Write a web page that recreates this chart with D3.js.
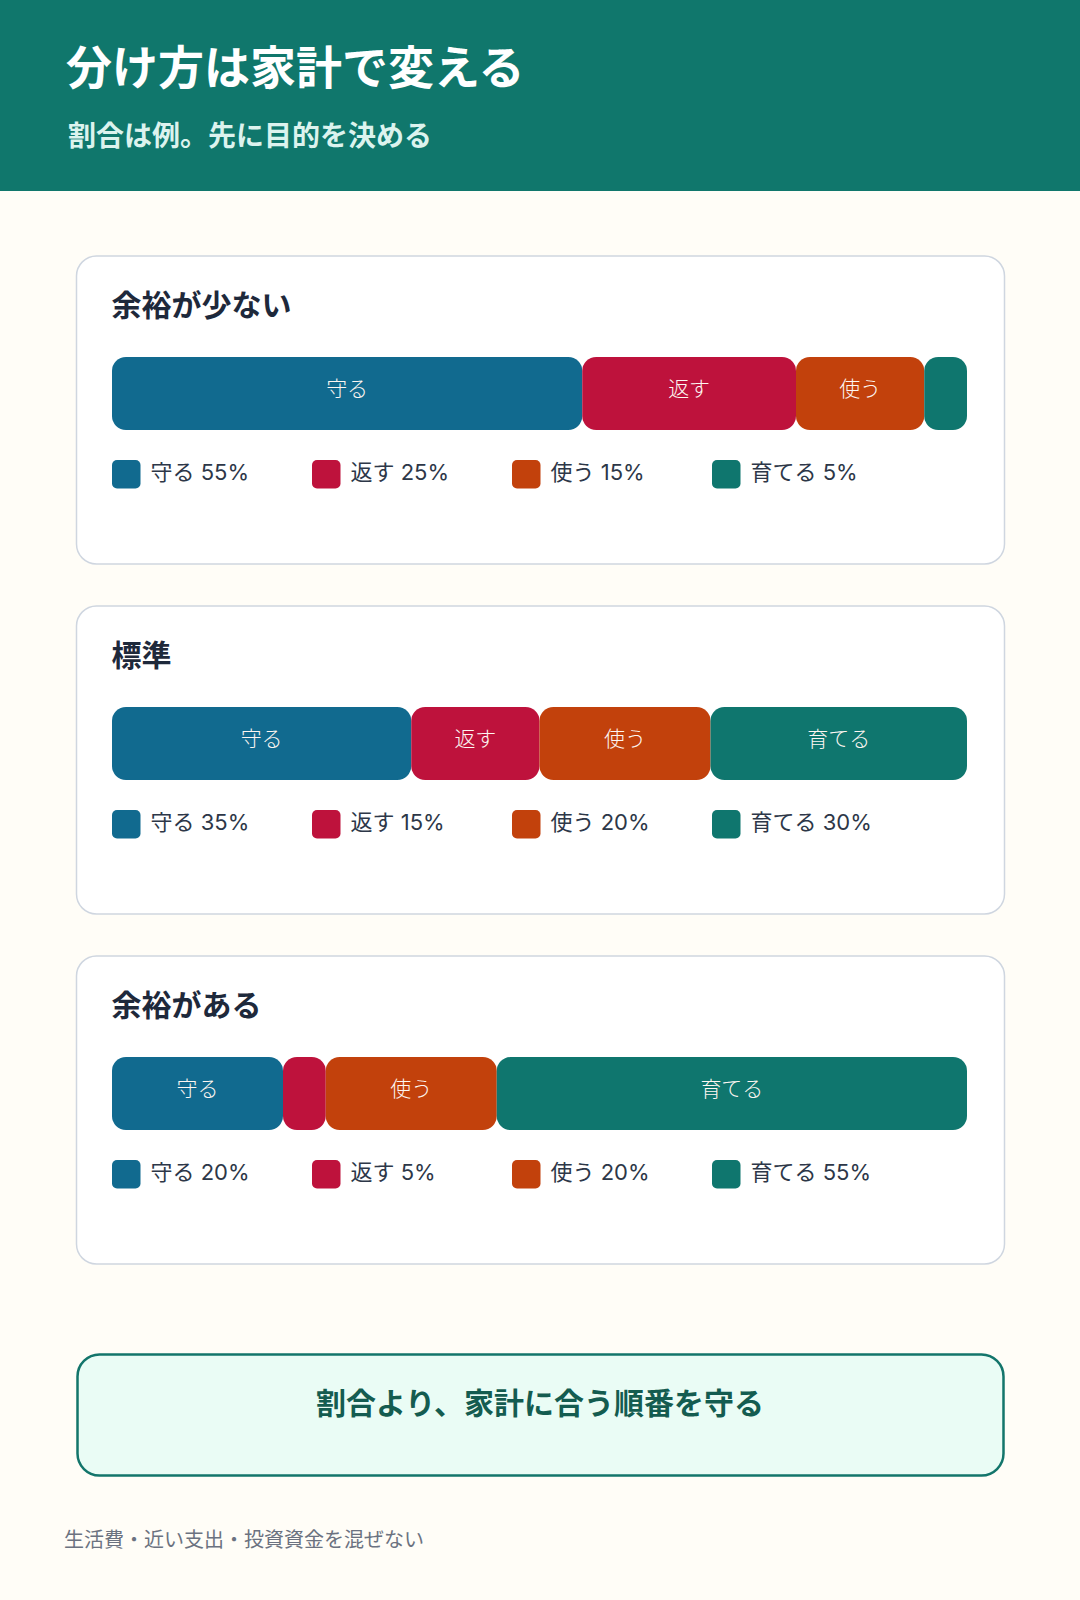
<!DOCTYPE html>
<html lang="ja">
<head>
<meta charset="utf-8">
<script src="https://cdn.jsdelivr.net/npm/d3@7"></script>
<style>
  html, body { margin: 0; padding: 0; background: #fffdf7; }
  svg { display: block; font-family: "Noto Sans CJK JP", "Noto Sans", sans-serif; }
  .thin { font-family: Inter, "Noto Sans CJK JP", sans-serif; font-weight: 300; }
  .leg { font-family: Inter, "Noto Sans CJK JP", sans-serif; font-weight: 400; }
</style>
</head>
<body>
<svg id="chart" width="1080" height="1600"></svg>
<script>
// ---- data ----
const titleText = "分け方は家計で変える";
const subtitleText = "割合は例。先に目的を決める";
const scenarios = ["余裕が少ない", "標準", "余裕がある"];
const categories = ["守る", "返す", "使う", "育てる"];
const lowShares = [55, 25, 15, 5];
const standardShares = [35, 15, 20, 30];
const highShares = [20, 5, 20, 55];
const calloutText = "割合より、家計に合う順番を守る";
const footnoteText = "生活費・近い支出・投資資金を混ぜない";

const shareSets = [lowShares, standardShares, highShares];
const colors = d3.scaleOrdinal().domain(categories)
  .range(["#116a8f", "#be123c", "#c2410c", "#0f766e"]);

const svg = d3.select("#chart");
const W = 1080, H = 1600;

svg.append("rect").attr("width", W).attr("height", H).attr("fill", "#fffdf7");

// header
svg.append("rect").attr("x", 0).attr("y", 0).attr("width", W).attr("height", 191).attr("fill", "#10776c");
svg.append("text").attr("x", 66).attr("y", 84)
  .attr("font-size", 46).attr("font-weight", 700).attr("fill", "#ffffff")
  .text(titleText);
svg.append("text").attr("x", 68).attr("y", 146)
  .attr("font-size", 28).attr("font-weight", 700).attr("fill", "#dcf3ee")
  .text(subtitleText);

// cards
const cardX = 76.5, cardW = 928, cardH = 308;
const cardY = d3.scaleLinear().domain([0, 1]).range([256, 606]);
const pad = 36;
const barW = cardW - pad * 2 - 1;
const x = d3.scaleLinear().domain([0, 100]).range([0, barW]);
const legendX = d3.scaleBand().domain(categories).range([0, 800]);

scenarios.forEach((name, i) => {
  const shares = shareSets[i];
  const g = svg.append("g").attr("transform", `translate(${cardX},${cardY(i)})`);
  g.append("rect").attr("width", cardW).attr("height", cardH).attr("rx", 20)
    .attr("fill", "#ffffff").attr("stroke", "#cfd6e0").attr("stroke-width", 1.5);
  g.append("text").attr("x", pad - 1).attr("y", 60)
    .attr("font-size", 30).attr("font-weight", 700).attr("fill", "#1e293b")
    .text(name);

  const ends = d3.cumsum(shares);
  const segs = categories.map((c, k) => ({ c, v: shares[k], x0: ends[k] - shares[k], x1: ends[k] }));
  const bar = g.append("g").attr("transform", `translate(${pad - 0.5},101)`);
  bar.selectAll("rect").data(segs).join("rect")
    .attr("x", d => x(d.x0)).attr("y", 0)
    .attr("width", d => x(d.x1) - x(d.x0)).attr("height", 73)
    .attr("rx", 14).attr("fill", d => colors(d.c));
  bar.selectAll("text").data(segs.filter(d => d.v >= 10)).join("text")
    .attr("class", "thin")
    .attr("x", d => x((d.x0 + d.x1) / 2)).attr("y", 39)
    .attr("text-anchor", "middle").attr("font-size", 21).attr("fill", "#fdf6f2")
    .text(d => d.c);

  const leg = g.append("g").attr("transform", `translate(${pad - 0.5},204)`);
  const items = leg.selectAll("g").data(segs).join("g")
    .attr("transform", d => `translate(${legendX(d.c)},0)`);
  items.append("rect").attr("width", 28.5).attr("height", 28.5).attr("rx", 5)
    .attr("fill", d => colors(d.c));
  items.append("text").attr("class", "leg").attr("x", 38.5).attr("y", 20)
    .attr("font-size", 22).attr("fill", "#2d3748")
    .text(d => `${d.c} ${d.v}%`);
});

// callout
svg.append("rect").attr("x", 77.5).attr("y", 1354.5).attr("width", 926).attr("height", 121)
  .attr("rx", 22).attr("fill", "#eafcf5").attr("stroke", "#13756b").attr("stroke-width", 2.5);
svg.append("text").attr("x", 540).attr("y", 1413.5).attr("text-anchor", "middle")
  .attr("font-size", 30).attr("font-weight", 700).attr("fill", "#145c50")
  .text(calloutText);

// footnote
svg.append("text").attr("x", 64).attr("y", 1547)
  .attr("font-size", 20).attr("fill", "#6b7280")
  .text(footnoteText);
</script>
</body>
</html>
